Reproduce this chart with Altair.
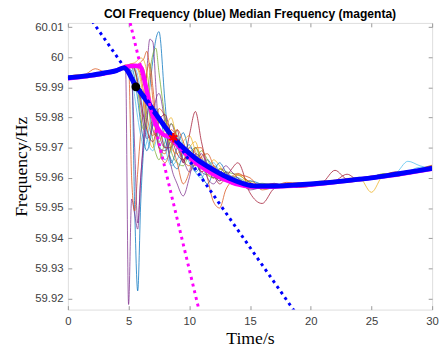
import altair as alt
import pandas as pd

# ---------------- data ----------------
T = [0, 0.75, 1.5, 2.25, 3, 3.75, 4.5,
     4.75, 5, 5.25, 5.5, 5.75, 6, 6.25, 6.5, 6.75, 7, 7.25, 7.5, 8,
     8.5, 9, 9.5, 10, 10.5, 11, 11.5, 12, 12.5, 13, 13.5, 14,
     15, 16, 17, 18, 19, 20, 21, 22, 23, 24, 25, 26, 27, 28, 29, 30]

bus_01 = [59.9930, 59.9936, 59.9940, 59.9944, 59.9950, 59.9955, 59.9960,
          59.9965, 59.9962, 59.9955, 59.9500, 59.9225, 59.9520, 59.9700, 59.9780, 59.9900, 59.9990, 60.0060, 60.0085, 59.9850,
          59.9650, 59.9700, 59.9750, 59.9680, 59.9620, 59.9640, 59.9660, 59.9630, 59.9600, 59.9610, 59.9605, 59.9600,
          59.9570, 59.9575, 59.9570, 59.9580, 59.9582, 59.9578, 59.9586, 59.9590, 59.9588, 59.9595, 59.9602, 59.9605, 59.9615, 59.9620, 59.9628, 59.9630]
bus_02 = [59.9935, 59.9938, 59.9942, 59.9946, 59.9947, 59.9954, 59.9962,
          59.9960, 59.9180, 59.9530, 59.9480, 59.9430, 59.9600, 59.9750, 59.9950, 60.0060, 60.0050, 59.9900, 59.9750, 59.9700,
          59.9780, 59.9720, 59.9650, 59.9700, 59.9680, 59.9620, 59.9610, 59.9640, 59.9620, 59.9600, 59.9580, 59.9590,
          59.9580, 59.9570, 59.9575, 59.9572, 59.9580, 59.9582, 59.9580, 59.9585, 59.9593, 59.9598, 59.9596, 59.9603, 59.9610, 59.9620, 59.9622, 59.9635]
bus_03 = [59.9933, 59.9940, 59.9945, 59.9962, 59.9952, 59.9950, 59.9968,
          59.9975, 59.9970, 59.9600, 59.9490, 59.9620, 59.9750, 59.9850, 59.9950, 59.9980, 59.9900, 59.9800, 59.9700, 59.9680,
          59.9760, 59.9730, 59.9660, 59.9640, 59.9700, 59.9670, 59.9620, 59.9600, 59.9630, 59.9620, 59.9590, 59.9580,
          59.9565, 59.9578, 59.9580, 59.9570, 59.9574, 59.9575, 59.9588, 59.9592, 59.9585, 59.9592, 59.9600, 59.9610, 59.9610, 59.9615, 59.9622, 59.9628]
bus_04 = [59.9931, 59.9933, 59.9939, 59.9944, 59.9949, 59.9956, 59.9965,
          59.9968, 59.9970, 59.9972, 59.9968, 59.9960, 59.9920, 59.9850, 59.9780, 59.9720, 59.9700, 59.9740, 59.9800, 59.9780,
          59.9700, 59.9680, 59.9720, 59.9740, 59.9690, 59.9640, 59.9630, 59.9660, 59.9640, 59.9610, 59.9600, 59.9595,
          59.9590, 59.9572, 59.9568, 59.9578, 59.9574, 59.9580, 59.9586, 59.9590, 59.9598, 59.9600, 59.9552, 59.9608, 59.9612, 59.9622, 59.9630, 59.9638]
bus_05 = [59.9934, 59.9937, 59.9941, 59.9945, 59.9951, 59.9953, 59.9963,
          59.9970, 59.9973, 59.9975, 59.9974, 59.9970, 59.9972, 59.9960, 59.9900, 59.9800, 59.9720, 59.9680, 59.9660, 59.9720,
          59.9780, 59.9740, 59.9680, 59.9660, 59.9660, 59.9690, 59.9660, 59.9620, 59.9600, 59.9620, 59.9615, 59.9610,
          59.9585, 59.9568, 59.9576, 59.9580, 59.9570, 59.9576, 59.9580, 59.9588, 59.9594, 59.9600, 59.9604, 59.9612, 59.9606, 59.9617, 59.9630, 59.9640]
bus_06 = [59.9929, 59.9934, 59.9937, 59.9940, 59.9946, 59.9950, 59.9960,
          59.9966, 59.9968, 59.9970, 59.9966, 59.9940, 59.9880, 59.9800, 59.9740, 59.9700, 59.9690, 59.9720, 59.9760, 59.9700,
          59.9640, 59.9660, 59.9700, 59.9680, 59.9620, 59.9600, 59.9640, 59.9650, 59.9620, 59.9590, 59.9585, 59.9600,
          59.9575, 59.9565, 59.9574, 59.9582, 59.9578, 59.9574, 59.9580, 59.9586, 59.9590, 59.9594, 59.9600, 59.9608, 59.9616, 59.9655, 59.9640, 59.9630]
bus_07 = [59.9932, 59.9936, 59.9940, 59.9943, 59.9950, 59.9952, 59.9966,
          59.9970, 59.9975, 59.9978, 59.9976, 59.9972, 59.9968, 59.9950, 59.9890, 59.9820, 59.9760, 59.9740, 59.9760, 59.9700,
          59.9700, 59.9760, 59.9650, 59.9740, 59.9820, 59.9720, 59.9640, 59.9610, 59.9580, 59.9600, 59.9630, 59.9650,
          59.9550, 59.9515, 59.9565, 59.9575, 59.9568, 59.9572, 59.9582, 59.9590, 59.9612, 59.9590, 59.9596, 59.9604, 59.9608, 59.9616, 59.9624, 59.9634]
bus_08 = [59.9936, 59.9938, 59.9943, 59.9946, 59.9953, 59.9955, 59.9967,
          59.9971, 59.9974, 59.9968, 59.9930, 59.9860, 59.9780, 59.9720, 59.9690, 59.9720, 59.9780, 59.9830, 59.9810, 59.9730,
          59.9660, 59.9630, 59.9680, 59.9710, 59.9660, 59.9610, 59.9580, 59.9620, 59.9650, 59.9620, 59.9590, 59.9575,
          59.9590, 59.9578, 59.9566, 59.9572, 59.9578, 59.9584, 59.9580, 59.9584, 59.9594, 59.9602, 59.9598, 59.9600, 59.9612, 59.9620, 59.9626, 59.9636]
bus_09 = [59.9930, 59.9934, 59.9938, 59.9942, 59.9948, 59.9951, 59.9962,
          59.9967, 59.9971, 59.9973, 59.9971, 59.9965, 59.9940, 59.9880, 59.9810, 59.9760, 59.9740, 59.9770, 59.9830, 59.9800,
          59.9720, 59.9650, 59.9580, 59.9620, 59.9700, 59.9700, 59.9600, 59.9520, 59.9500, 59.9560, 59.9590, 59.9610,
          59.9600, 59.9560, 59.9570, 59.9585, 59.9582, 59.9578, 59.9580, 59.9586, 59.9590, 59.9598, 59.9604, 59.9612, 59.9618, 59.9614, 59.9630, 59.9642]
bus_10 = [59.9933, 59.9937, 59.9941, 59.9945, 59.9950, 59.9953, 59.9964,
          59.9968, 59.9972, 59.9970, 59.9960, 59.9910, 59.9840, 59.9770, 59.9730, 59.9740, 59.9800, 59.9860, 59.9880, 59.9780,
          59.9640, 59.9580, 59.9540, 59.9600, 59.9680, 59.9660, 59.9600, 59.9580, 59.9610, 59.9640, 59.9620, 59.9600,
          59.9560, 59.9570, 59.9582, 59.9570, 59.9574, 59.9580, 59.9586, 59.9590, 59.9590, 59.9596, 59.9598, 59.9606, 59.9614, 59.9622, 59.9620, 59.9628]
bus_11 = [59.9934, 59.9936, 59.9939, 59.9947, 59.9951, 59.9958, 59.9965,
          59.9972, 59.9976, 59.9979, 59.9982, 59.9990, 59.9998, 59.9990, 59.9950, 59.9880, 59.9800, 59.9750, 59.9720, 59.9760,
          59.9800, 59.9720, 59.9660, 59.9700, 59.9720, 59.9650, 59.9620, 59.9640, 59.9610, 59.9590, 59.9600, 59.9610,
          59.9580, 59.9574, 59.9578, 59.9568, 59.9576, 59.9583, 59.9590, 59.9591, 59.9588, 59.9594, 59.9602, 59.9609, 59.9618, 59.9619, 59.9628, 59.9637]
bus_12 = [59.9932, 59.9938, 59.9942, 59.9940, 59.9949, 59.9954, 59.9961,
          59.9964, 59.9966, 59.9940, 59.9870, 59.9800, 59.9740, 59.9700, 59.9720, 59.9780, 59.9810, 59.9780, 59.9720, 59.9660,
          59.9690, 59.9740, 59.9710, 59.9650, 59.9630, 59.9660, 59.9650, 59.9610, 59.9590, 59.9610, 59.9605, 59.9590,
          59.9570, 59.9580, 59.9571, 59.9576, 59.9580, 59.9581, 59.9584, 59.9588, 59.9596, 59.9599, 59.9605, 59.9604, 59.9610, 59.9621, 59.9635, 59.9633]
bus_13 = [59.9931, 59.9934, 59.9936, 59.9942, 59.9945, 59.9951, 59.9961,
          59.9966, 59.9968, 59.9966, 59.9955, 59.9900, 59.9800, 59.9760, 59.9850, 59.9950, 60.0010, 60.0030, 59.9950, 59.9800,
          59.9690, 59.9650, 59.9640, 59.9680, 59.9700, 59.9650, 59.9610, 59.9600, 59.9630, 59.9615, 59.9590, 59.9580,
          59.9575, 59.9582, 59.9574, 59.9570, 59.9576, 59.9582, 59.9586, 59.9586, 59.9592, 59.9596, 59.9602, 59.9614, 59.9604, 59.9616, 59.9624, 59.9631]
bus_14 = [59.9933, 59.9939, 59.9936, 59.9942, 59.9948, 59.9950, 59.9962,
          59.9967, 59.9970, 59.9972, 59.9960, 59.9920, 59.9860, 59.9800, 59.9760, 59.9730, 59.9720, 59.9750, 59.9790, 59.9810,
          59.9740, 59.9680, 59.9660, 59.9690, 59.9660, 59.9620, 59.9630, 59.9610, 59.9590, 59.9600, 59.9595, 59.9585,
          59.9580, 59.9574, 59.9570, 59.9578, 59.9583, 59.9576, 59.9586, 59.9625, 59.9596, 59.9594, 59.9600, 59.9608, 59.9620, 59.9612, 59.9626, 59.9638]
bus_15 = [59.9934, 59.9942, 59.9937, 59.9941, 59.9947, 59.9956, 59.9964,
          59.9969, 59.9972, 59.9974, 59.9970, 59.9975, 59.9985, 59.9995, 60.0020, 59.9960, 59.9860, 59.9760, 59.9700, 59.9650,
          59.9700, 59.9760, 59.9720, 59.9660, 59.9640, 59.9670, 59.9680, 59.9640, 59.9600, 59.9590, 59.9605, 59.9615,
          59.9585, 59.9568, 59.9574, 59.9580, 59.9572, 59.9578, 59.9584, 59.9592, 59.9590, 59.9592, 59.9606, 59.9602, 59.9608, 59.9624, 59.9620, 59.9634]
bus_16 = [59.9932, 59.9935, 59.9940, 59.9945, 59.9950, 59.9952, 59.9963,
          59.9966, 59.9964, 59.9930, 59.9700, 59.9450, 59.9600, 59.9720, 59.9800, 59.9850, 59.9820, 59.9760, 59.9700, 59.9690,
          59.9720, 59.9700, 59.9660, 59.9620, 59.9650, 59.9680, 59.9640, 59.9600, 59.9600, 59.9620, 59.9600, 59.9580,
          59.9570, 59.9576, 59.9580, 59.9574, 59.9572, 59.9580, 59.9588, 59.9584, 59.9590, 59.9600, 59.9600, 59.9604, 59.9616, 59.9618, 59.9622, 59.9630]

bus_lines = [bus_01, bus_02, bus_03, bus_04, bus_05, bus_06, bus_07, bus_08,
             bus_09, bus_10, bus_11, bus_12, bus_13, bus_14, bus_15, bus_16]
bus_colors = ["#0072BD", "#7E2F8E", "#D95319", "#EDB120", "#77AC30", "#4DBEEE", "#A2142F", "#0072BD",
              "#D95319", "#7E2F8E", "#EDB120", "#4DBEEE", "#77AC30", "#A2142F", "#D95319", "#7E2F8E"]

coi_t = [0, 1, 2, 3, 4, 4.6, 5.6, 6.5, 7.5, 8.7, 9.5, 10.5, 11.5, 12.5, 13.5, 14.5, 15.5, 17, 19, 21, 23, 25, 27, 29, 30]
coi_f = [59.9932, 59.9936, 59.9941, 59.9948, 59.9956, 59.9965, 59.9905, 59.9855, 59.9797, 59.9733, 59.9700, 59.9665,
         59.9638, 59.9615, 59.9595, 59.9580, 59.9573, 59.9573, 59.9577, 59.9583, 59.9591, 59.9600, 59.9612, 59.9625, 59.9632]

med_t = [0, 2, 4, 4.6, 5.5, 6.0, 6.3, 6.6, 7.0, 7.4, 7.8, 8.4, 9, 10, 11, 12, 13, 14, 15, 16, 18, 20, 22, 24, 26, 28, 30]
med_f = [59.9930, 59.9940, 59.9956, 59.9966, 59.9972, 59.9968, 59.9925, 59.9870, 59.9805, 59.9765, 59.9745, 59.9735,
         59.9710, 59.9668, 59.9636, 59.9612, 59.9593, 59.9578, 59.9571, 59.9570, 59.9573, 59.9578, 59.9586, 59.9595,
         59.9605, 59.9617, 59.9630]

coi_tan_t = [2.0, 19.0]
coi_tan_f = [60.0120, 59.9138]
med_tan_t = [5.0, 11.0]
med_tan_f = [60.0136, 59.9128]

circle_t = [5.6]
circle_f = [59.9902]
star_t = [8.68]
star_f = [59.9733]

x_ticks = [0, 5, 10, 15, 20, 25, 30]
y_ticks = [59.92, 59.93, 59.94, 59.95, 59.96, 59.97, 59.98, 59.99, 60.00, 60.01]
x_dom = [0, 30]
y_dom = [59.9163, 60.0114]

# ---------------- frames ----------------
rows = []
for i, vals in enumerate(bus_lines):
    for t, f in zip(T, vals):
        rows.append({"t": t, "f": f, "id": f"b{i:02d}"})
bus_df = pd.DataFrame(rows)
ids = [f"b{i:02d}" for i in range(len(bus_lines))]

coi_df = pd.DataFrame({"t": coi_t, "f": coi_f})
med_df = pd.DataFrame({"t": med_t, "f": med_f})
coi_tan_df = pd.DataFrame({"t": coi_tan_t, "f": coi_tan_f})
med_tan_df = pd.DataFrame({"t": med_tan_t, "f": med_tan_f})
circ_df = pd.DataFrame({"t": circle_t, "f": circle_f})
star_df = pd.DataFrame({"t": star_t, "f": star_f})

xs = alt.Scale(domain=x_dom, nice=False, zero=False)
ys = alt.Scale(domain=y_dom, nice=False, zero=False)

AX = "#999999"
LAB = "#404040"

x_bottom = alt.Axis(values=x_ticks, domain=False, offset=-4, tickSize=4, tickColor=AX,
                    labelPadding=6, labelFont="Liberation Sans", labelFontSize=11.5, labelColor=LAB,
                    labelFlush=False, labelOverlap=False, format="d", grid=False,
                    title="Time/s", titleFont="Liberation Serif", titleFontSize=18,
                    titleFontWeight="normal", titleColor="black", titlePadding=3)
y_left = alt.Axis(values=y_ticks, domain=False, offset=-4, tickSize=4, tickColor=AX,
                  labelPadding=5, labelFont="Liberation Sans", labelFontSize=11.5, labelColor=LAB,
                  labelFlush=False, labelOverlap=False, format=".2~f", grid=False,
                  title="Frequency/Hz", titleFont="Liberation Serif", titleFontSize=18,
                  titleFontWeight="normal", titleColor="black", titlePadding=4)
x_top = alt.Axis(orient="top", values=x_ticks, domain=False, offset=-4, tickSize=4, tickColor=AX,
                 labels=False, grid=False, title=None)
y_right = alt.Axis(orient="right", values=y_ticks, domain=False, offset=-4, tickSize=4, tickColor=AX,
                   labels=False, grid=False, title=None)

bus = alt.Chart(bus_df).mark_line(strokeWidth=0.9, opacity=0.85, interpolate="monotone", clip=True).encode(
    x=alt.X("t:Q", scale=xs, axis=x_bottom),
    y=alt.Y("f:Q", scale=ys, axis=y_left),
    color=alt.Color("id:N", scale=alt.Scale(domain=ids, range=bus_colors), legend=None),
    detail="id:N",
)

med = alt.Chart(med_df).mark_line(color="#FF00FF", strokeWidth=4.5, interpolate="monotone", clip=True).encode(
    x=alt.X("t:Q", scale=xs, axis=x_top),
    y=alt.Y("f:Q", scale=ys, axis=y_right),
)

coi = alt.Chart(coi_df).mark_line(color="#0000FF", strokeWidth=5, interpolate="monotone", clip=True).encode(
    x=alt.X("t:Q", scale=xs, axis=None),
    y=alt.Y("f:Q", scale=ys, axis=None),
)

coi_tan = alt.Chart(coi_tan_df).mark_line(color="#0000FF", strokeWidth=3, strokeDash=[3, 4], clip=True).encode(
    x=alt.X("t:Q", scale=xs, axis=None),
    y=alt.Y("f:Q", scale=ys, axis=None),
)
med_tan = alt.Chart(med_tan_df).mark_line(color="#FF00FF", strokeWidth=3, strokeDash=[3, 4], clip=True).encode(
    x=alt.X("t:Q", scale=xs, axis=None),
    y=alt.Y("f:Q", scale=ys, axis=None),
)

circ = alt.Chart(circ_df).mark_point(shape="circle", filled=True, color="black", size=55,
                                     stroke="black", strokeWidth=1.5, opacity=1).encode(
    x=alt.X("t:Q", scale=xs, axis=None),
    y=alt.Y("f:Q", scale=ys, axis=None),
)
star = alt.Chart(star_df).mark_point(
    shape="M0,-1L0,1M-0.87,-0.5L0.87,0.5M-0.87,0.5L0.87,-0.5",
    filled=False, color="#FF0000", size=90, strokeWidth=2.2, opacity=1).encode(
    x=alt.X("t:Q", scale=xs, axis=None),
    y=alt.Y("f:Q", scale=ys, axis=None),
)

chart = alt.layer(bus, med, coi, coi_tan, med_tan, circ, star).resolve_axis(
    x="independent", y="independent"
).properties(
    width=371, height=292,
    padding={"left": 61, "top": 12, "right": 7, "bottom": 40},
    autosize=alt.AutoSizeParams(type="none"),
    title=alt.TitleParams("COI Frequency (blue) Median Frequency (magenta)", font="Liberation Sans",
                          fontSize=12.3, fontWeight="bold", color="black", offset=1, anchor="middle"),
).configure_view(stroke=AX, strokeWidth=1).configure(background="white")

chart.save("out.html", embed_options={"renderer": "svg", "actions": False})
